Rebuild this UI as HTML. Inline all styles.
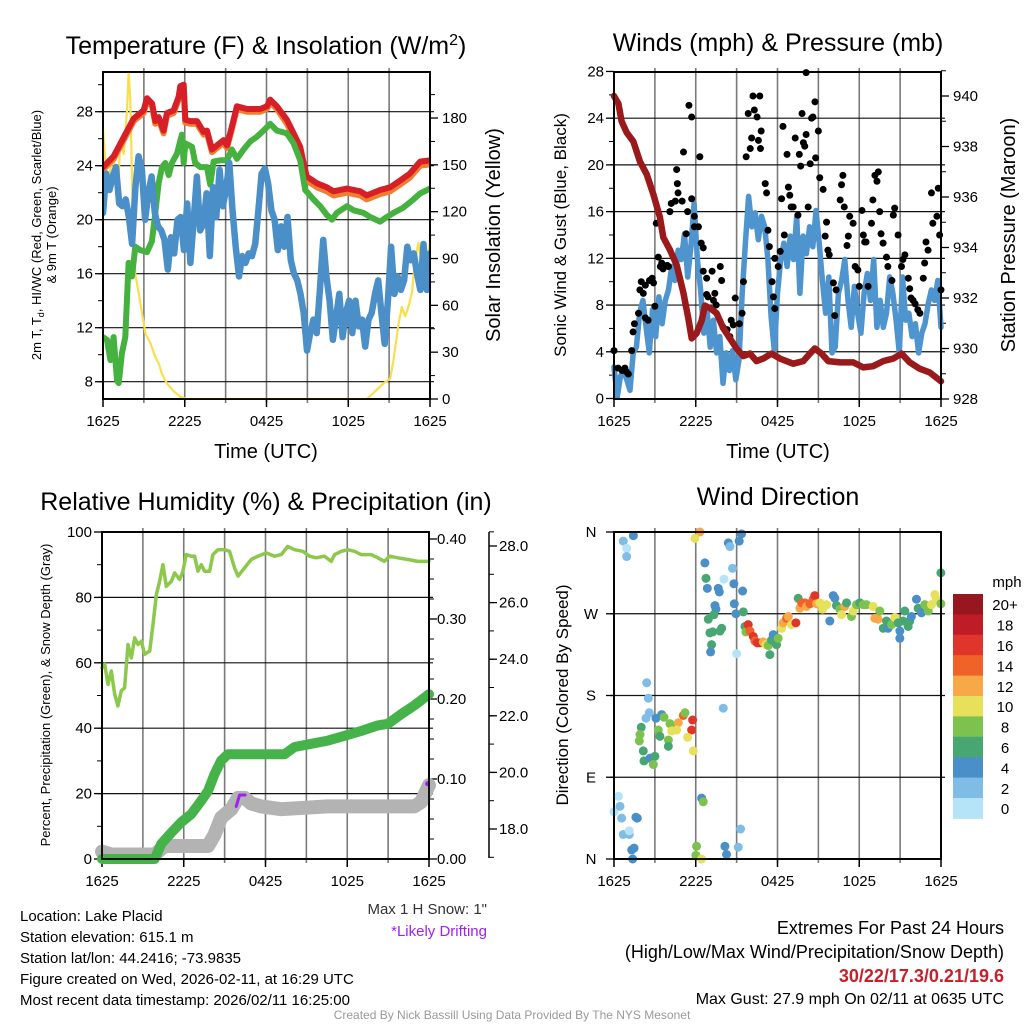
<!DOCTYPE html>
<html><head><meta charset="utf-8"><style>
html,body{margin:0;padding:0;background:#fff}
svg{display:block;font-family:"Liberation Sans",Arial,sans-serif}
</style></head><body>
<svg id="c" width="1024" height="1024" viewBox="0 0 1024 1024" xmlns="http://www.w3.org/2000/svg">
<g id="g1"></g>
<g id="g2"></g>
<g id="g3"></g>
<g id="g4"></g>
<g id="txt">
<text x="20" y="921" font-size="15">Location: Lake Placid</text>
<text x="20" y="942" font-size="15">Station elevation: 615.1 m</text>
<text x="20" y="963" font-size="15">Station lat/lon: 44.2416; -73.9835</text>
<text x="20" y="984" font-size="15">Figure created on Wed, 2026-02-11, at 16:29 UTC</text>
<text x="20" y="1005" font-size="15">Most recent data timestamp: 2026/02/11 16:25:00</text>
<text x="487" y="914" font-size="15" text-anchor="end" fill="#333">Max 1 H Snow: 1"</text>
<text x="487" y="936" font-size="15" text-anchor="end" fill="#a020f0">*Likely Drifting</text>
<text x="1004" y="934" font-size="18" text-anchor="end">Extremes For Past 24 Hours</text>
<text x="1004" y="958" font-size="18" text-anchor="end">(High/Low/Max Wind/Precipitation/Snow Depth)</text>
<text x="1004" y="982" font-size="18" font-weight="bold" text-anchor="end" fill="#c8202a">30/22/17.3/0.21/19.6</text>
<text x="1004" y="1004" font-size="16" text-anchor="end">Max Gust: 27.9 mph On 02/11 at 0635 UTC</text>
<text x="512" y="1019" font-size="12" text-anchor="middle" fill="#999">Created By Nick Bassill Using Data Provided By The NYS Mesonet</text>
</g>
</svg>
<script>
const timeTickLabels=["1625","2225","0425","1025","1625"];
const timeTickHours=[0,6,12,18,24];
// Panel 1
const tempTicks=[8,12,16,20,24,28];
const solarTicks=[0,30,60,90,120,150,180];
const redH=[0,0.78,1.52,2.25,2.98,3.23,3.6,3.84,4.08,4.45,4.69,5.18,5.55,5.67,5.92,6.04,6.41,6.9,7.38,7.63,8.0,8.36,8.85,9.1,9.46,9.83,10.56,11.54,12.03,12.27,12.76,13.5,13.99,14.47,14.72,14.96,15.7,16.43,16.92,17.9,18.88,19.36,20.34,21.08,21.8,22.5,23.28,24];
const redT=[23.9,24.7,26.1,27.5,28.1,29.0,28.6,27.3,27.6,26.6,27.9,28.1,29.1,29.9,30.0,27.4,27.3,27.3,26.5,26.6,25.2,25.5,25.9,25.5,26.9,28.4,28.2,28.2,28.4,28.9,28.4,27.4,26.4,25.4,24.2,23.2,22.7,22.4,22.1,22.3,22.1,21.8,22.2,22.4,22.9,23.4,24.3,24.4];
const orangeT=[23.7,24.5,25.9,27.3,27.9,28.8,28.4,27.1,27.4,26.4,27.7,27.9,28.9,29.7,29.8,27.2,27.1,27.1,26.3,26.4,25.0,25.3,25.7,25.3,26.7,28.2,28.0,28.0,28.2,28.7,28.2,27.1,26.1,25.1,23.9,22.9,22.4,22.1,21.8,22.0,21.8,21.5,21.9,22.1,22.6,23.1,24.0,24.1];
const greenH=[0,0.29,0.54,0.78,1.03,1.15,1.39,1.64,1.88,2.13,2.37,2.74,3.23,3.59,3.84,4.08,4.33,4.57,4.82,5.06,5.43,5.79,5.92,6.04,6.53,6.77,7.14,7.63,7.87,8.12,8.61,9.1,9.46,9.83,10.32,10.81,11.3,11.78,12.27,12.76,13.5,13.99,14.47,14.84,15.45,15.94,16.43,16.8,17.16,17.9,18.39,19.12,19.61,20.34,20.83,21.32,22.05,22.79,23.28,24];
const greenT=[11.3,11.1,9.6,11.3,8.1,7.9,10.1,11.3,16.8,15.8,18.0,17.75,17.6,18.4,20.5,22.7,23.9,24.2,23.3,24.2,24.9,26.3,24.2,25.65,25.4,24.2,23.9,23.9,22.6,24.3,24.4,24.4,25.2,24.5,25.2,25.8,26.15,26.6,27.1,26.6,26.4,25.65,24.4,22.2,21.5,21.0,20.35,20.0,20.5,21.0,20.7,20.5,20.2,19.85,20.2,20.5,20.9,21.5,21.95,22.3];
const chillT=[20.5,23.4,22.2,23.2,23.9,21.2,21.0,21.5,20.2,18.2,22.4,24.7,23.7,20.0,21.95,23.2,20.5,19.5,19.2,18.5,16.3,18.7,17.5,20.0,20.2,17.75,21.2,16.8,20.0,23.2,19.2,19.7,21.95,17.3,22.4,20.2,23.7,21.0,22.2,24.2,20.7,18.0,15.8,17.3,16.8,17.5,17.3,18.2,20.7,23.4,23.8,22.7,20.7,20.0,17.75,19.5,18.0,20.2,17.0,16.0,15.5,14.5,13.1,10.3,11.6,12.6,11.6,14.8,18.5,15.8,14.0,11.1,12.8,14.5,11.3,13.1,14.0,11.6,14.0,12.1,12.6,10.6,12.6,13.1,14.5,15.5,13.1,10.8,14.0,18.0,14.5,15.8,14.8,15.5,18.0,17.0,17.5,16.0,14.8,18.2,14.8,17.5];
const solarH=[0,0.17,0.29,0.54,0.78,1.03,1.15,1.27,1.52,1.76,1.88,2.0,2.13,2.25,2.37,2.62,2.86,3.11,3.47,3.84,4.08,4.33,4.69,5.18,5.67,6.16,19.36,19.85,20.59,21.08,21.32,21.69,21.93,22.18,22.42,22.67,22.91,23.15,23.4,23.64,23.89,24];
const solarW=[172,153,138,147,154,136,143,166,157,185,209,192,142,97,80,68,55,42,36,27,23,16,10,5,1.5,0,0,4,10,13,25,48,59,53,59,68,89,100,85,70,95,100];
// Panel 2
const windTicks=[0,4,8,12,16,20,24,28];
const presTicks=[928,930,932,934,936,938,940];
const sonicW=[2.7,0.1,1.9,2.4,1.6,0.7,3.9,4.4,7.3,8.4,6.1,3.9,7.6,5.3,8.7,6.4,8.4,9.3,11.3,10.1,12.7,11.9,14.1,10.4,13,16.7,11.9,9.3,5.6,7.6,4.4,6.7,3.9,5.3,1.3,3.9,2.4,4.1,1.6,3.3,9.0,13.3,17.3,14.7,15.9,13.6,15.6,14.7,11.9,7.0,4.1,9.0,11.9,13.3,11.3,13.9,11.9,15.6,9.0,13.9,12.4,14.7,13,16.1,13.3,10.1,7.3,10.4,3.9,4.4,9.0,10.1,11.9,8.4,6.1,9.6,7.3,5.6,9.0,10.7,8.4,11.9,6.1,8.4,6.1,7.3,10.4,9.0,6.7,3.9,10.4,6.7,7.3,5.3,6.4,3.9,5.6,6.4,8.1,9.3,8.4,10.1,6.1];
const presH=[0,0.32,0.56,0.93,1.42,1.91,2.4,2.89,3.37,3.62,4.11,4.6,5.09,5.45,5.7,6.06,6.43,6.67,7.04,7.53,8.02,8.51,9.0,9.49,9.98,10.46,10.95,11.56,12.18,13.15,13.89,14.38,14.74,15.23,15.72,16.58,17.56,18.29,19.02,19.76,20.49,21.1,21.71,22.44,23.18,24];
const presMb=[940.0,939.7,939.0,938.55,938.2,937.4,936.9,936.1,935.2,934.4,933.9,933.3,932.2,931.2,930.4,930.6,931.1,931.7,931.6,931.4,930.8,930.4,930.0,929.7,929.8,929.5,929.6,929.8,929.6,929.4,929.5,929.8,930.0,929.8,929.5,929.45,929.45,929.25,929.3,929.5,929.6,929.8,929.45,929.2,929.05,928.7];
const gustH=[0,.3,.6,.8,.9,1.05,1.3,1.4,1.5,1.8,1.9,2.0,2.15,2.3,2.3,2.5,2.6,2.8,2.9,3.0,3.1,3.25,3.4,3.5,3.6,3.7,3.9,4.0,4.1,4.2,4.5,4.6,4.65,4.7,5.0,5.1,5.3,5.4,5.5,5.7,5.7,5.9,5.9,6.2,6.3,6.4,6.55,6.55,6.8,6.8,6.9,7.2,7.3,7.4,7.5,7.8,7.9,8.0,8.3,8.5,8.6,8.75,8.9,9.2,9.4,9.5,9.7,9.85,10.0,10.1,10.2,10.3,10.5,10.6,10.7,10.75,10.8,11.1,11.2,11.3,11.4,11.6,11.7,11.8,11.8,12.05,12.2,12.3,12.4,12.5,12.7,12.8,12.9,13.0,13.15,13.3,13.5,13.6,13.7,13.8,13.9,14.0,14.1,14.1,14.25,14.4,14.5,14.6,14.75,14.8,15.0,15.1,15.35,15.5,15.6,15.7,15.8,16.1,16.2,16.3,16.6,16.7,16.8,16.9,17.1,17.2,17.3,17.55,17.7,17.9,18.0,18.2,18.3,18.4,18.5,18.65,18.9,19.0,19.15,19.3,19.4,19.5,19.6,19.75,20.0,20.1,20.4,20.5,20.6,20.85,21.1,21.2,21.35,21.6,21.7,21.8,21.95,22.1,22.3,22.45,22.7,22.8,22.9,23.05,23.3,23.4,23.7,23.8,23.9,24.0];
const gustW=[4.1,2.6,2.4,2.6,2.3,2.1,4.1,5.7,6.4,7.3,9.3,10.0,9.0,9.7,6.9,6.7,10.1,10.3,9.9,7.9,15.0,12.1,11.3,11.6,11.1,11.3,11.4,11.3,16.0,16.7,16.9,19.6,18.4,17.6,16.9,21.1,14.1,16.0,25.1,24.1,17.1,14.7,15.6,14.7,20.7,13.3,12.9,10.9,10.3,8.9,8.7,10.9,8.4,9.0,8.0,11.3,10.1,6.1,5.9,5.3,6.7,6.3,8.6,6.4,7.3,10.0,20.7,24.4,21.4,22.3,25.9,24.7,24.1,22.1,25.9,21.4,22.9,18.4,17.6,14.4,13.0,10.0,8.7,7.7,12.0,11.3,12.6,17.1,23.3,14.0,20.9,18.1,17.4,16.4,16.4,22.3,15.7,20.9,19.9,24.4,21.9,21.6,22.6,27.9,16.4,20.1,24.0,24.1,25.4,20.6,22.9,18.9,17.9,13.9,15.1,12.7,12.3,9.9,7.1,9.3,17.0,18.3,19.1,16.4,13.1,13.9,15.6,15.0,11.3,11.0,9.6,16.1,14.0,13.4,13.4,9.6,15.0,17.0,19.1,18.6,19.4,16.0,14.1,13.3,12.1,11.3,10.1,15.7,16.3,14.0,11.3,11.9,12.3,10.3,9.4,8.6,8.4,8.1,7.6,7.3,10.3,11.6,13.4,12.7,17.6,15.0,15.6,18.0,14.0,9.3];
// Panel 3
const rhTicks=[0,20,40,60,80,100];
const precipTicks=["0.00","0.10","0.20","0.30","0.40"];
const snowTicks=["18.0","20.0","22.0","24.0","26.0","28.0"];
const rhH=[0,0.2,0.44,0.68,0.93,1.17,1.42,1.66,1.91,2.15,2.4,2.64,2.89,3.13,3.5,3.74,3.99,4.23,4.47,4.72,5.09,5.33,5.7,5.94,6.18,6.55,6.8,7.04,7.29,7.53,7.9,8.14,8.51,9.0,9.36,9.73,9.98,10.46,10.95,11.44,12.05,12.67,13.15,13.64,14.13,14.74,15.23,15.72,16.33,16.82,17.07,17.56,18.04,18.53,19.02,19.76,20.25,20.73,21.1,21.71,22.44,23.18,24];
const rhPct=[58.5,59.5,53.4,57.5,50.4,46.8,51.4,52.4,65.6,61.5,67.6,65.6,66.6,62.6,63.6,71.7,80.9,84.9,90.0,83.4,84.9,87.5,85.5,88.0,93.1,92.6,92.6,88.0,90.0,88.0,88.0,93.1,94.6,94.6,94.1,89.0,86.5,89.0,91.6,92.6,93.6,92.6,93.1,95.6,94.6,94.1,92.6,92.1,92.6,91.0,93.1,94.1,94.6,94.1,93.1,93.1,92.1,91.0,92.6,92.1,91.6,91.0,91.0];
const precipH=[0,3.86,4.35,5.09,5.82,6.55,7.29,7.78,8.26,8.75,9.24,9.73,13.4,14.13,15.35,16.58,17.8,19.02,20.25,20.98,21.96,22.93,24];
const precipIn=[0,0,0.019,0.033,0.046,0.056,0.073,0.085,0.106,0.123,0.131,0.131,0.131,0.14,0.144,0.148,0.154,0.16,0.167,0.169,0.181,0.192,0.206];
const snowH=[0,0.68,3.86,4.6,7.78,8.26,8.75,9.49,9.98,10.46,10.95,11.69,13.15,16.58,22.44,22.93,23.42,24];
const snowIn=[17.2,17.1,17.1,17.4,17.4,17.8,18.4,18.7,19.1,19.1,18.9,18.8,18.7,18.8,18.8,18.8,18.95,19.55];
const driftH=[9.85,10.1,10.5];
const driftIn=[18.8,19.2,19.2];
const driftH2=[23.9];
const driftIn2=[19.6];
// Panel 4
const dirLabels=["N","E","S","W","N"];
const dirTicks=[0,90,180,270,360];
const speedBinLabels=["0","2","4","6","8","10","12","14","16","18","20+"];
const speedBinColors=["#b5e3f8","#7fbde6","#4a8fc7","#48a673","#7dc24f","#e6e05b","#f8a947","#ef6329","#e0352a","#c01c27","#96171d"];
const dirH=[.68,.93,.93,1.42,6.31,5.94,8.39,8.51,9.19,9.36,6.67,6.75,6.85,7.65,7.73,8.07,8.7,8.8,9.44,7.41,7.48,8.83,8.95,9.49,7.33,6.92,7.04,7.24,7.78,7.9,7.16,7.09,9.0,
9.61,9.68,9.85,9.98,10.22,10.34,10.51,10.71,10.95,11.15,11.32,11.44,11.56,11.69,11.93,12.05,12.3,12.42,12.67,12.79,13.03,13.35,13.52,13.64,13.77,14.01,14.13,14.38,14.62,14.74,14.87,15.11,15.31,15.6,15.84,16.09,16.21,16.33,16.58,16.7,16.94,17.07,17.43,17.56,17.8,18.04,18.29,18.53,19.02,19.14,19.39,19.51,19.76,20.0,20.12,20.37,20.61,20.86,20.98,20.98,21.22,21.34,21.59,21.71,21.83,22.2,22.32,22.57,22.81,23.06,23.3,23.55,23.67,23.99,23.99,
2.4,2.52,2.59,2.35,3.08,3.5,3.67,4.11,4.35,4.72,4.6,5.09,5.21,5.77,5.7,5.4,5.82,2.0,1.91,1.86,2.15,2.2,2.64,3.0,2.89,3.25,3.37,3.99,3.99,4.23,8.02,
.32,0,.44,.56,1.61,1.71,.68,1.12,1.12,1.3,1.47,1.37,6.43,6.55,6.06,6.01,6.43,8.14,8.26,9.12,9.29];
const dirDeg=[350,342,333,356,360,353,348,344,350,358,326,309,298,298,294,308,320,303,295,279,275,281,270,272,269,264,249,250,251,254,236,228,226,
256,250,258,251,245,240,238,238,239,236,235,225,241,247,236,243,254,260,265,267,258,260,287,276,282,282,278,281,286,290,281,282,275,280,262,290,287,279,275,269,278,282,267,273,280,282,280,280,278,265,264,273,254,262,254,258,266,260,251,243,262,273,256,262,267,286,276,271,280,273,280,291,286,281,315,
194,177,161,155,155,159,156,149,144,150,142,158,161,153,142,134,119,145,137,130,119,108,111,113,104,142,135,131,124,141,166,
69,52,58,45,46,45,27,27,31,10,12,0,67,63,14,4,0,14,5,13,33];
const dirSpeed=[3,1,3,5,13,10,5,3,4,5,5,7,5,5,5,1,3,5,5,5,5,5,5,7,7,7,7,7,7,7,7,5,1,
7,9,17,15,17,15,17,17,13,11,9,7,7,5,7,9,11,13,15,13,11,17,7,13,15,15,13,15,15,17,13,11,11,11,5,5,5,7,9,11,13,7,9,11,9,7,9,9,11,13,13,9,7,7,5,9,11,7,5,5,7,7,7,7,5,5,7,5,9,9,11,11,11,9,7,
3,3,3,3,5,5,9,9,9,13,11,15,9,17,17,11,11,7,9,9,7,7,5,7,9,9,7,9,7,11,3,
1,1,3,3,5,5,3,3,1,5,5,5,5,9,9,9,11,5,5,3,3];

const NS="http://www.w3.org/2000/svg";
function mk(parent,tag,attrs){const e=document.createElementNS(NS,tag);for(const k in attrs)e.setAttribute(k,attrs[k]);parent.appendChild(e);return e;}
function txt(parent,x,y,s,size,anchor,extra){const e=mk(parent,"text",Object.assign({x:x,y:y,"font-size":size,"text-anchor":anchor||"middle"},extra||{}));e.textContent=s;return e;}
function line(parent,xs,ys,color,w,name){let d="";for(let i=0;i<xs.length;i++)d+=(i?"L":"M")+xs[i].toFixed(1)+","+ys[i].toFixed(1);const p=mk(parent,"path",{d:d,fill:"none",stroke:color,"stroke-width":w,"stroke-linejoin":"round","stroke-linecap":"round"});


return p;}
function frame(g,L,R,T,B,hy,xFn){
  for(let h=3;h<24;h+=3){mk(g,"line",{x1:xFn(h),x2:xFn(h),y1:T-4,y2:B+4,stroke:"#7a7a7a","stroke-width":1.6});}
  hy.forEach(y=>{mk(g,"line",{x1:L-4,x2:R+4,y1:y,y2:y,stroke:"#111","stroke-width":1.2});});
  mk(g,"rect",{x:L,y:T,width:R-L,height:B-T,fill:"none",stroke:"#000","stroke-width":1.8});
}
function timeAxis(g,xFn,B){
  timeTickHours.forEach((h,i)=>{const x=xFn(h);mk(g,"line",{x1:x,x2:x,y1:B,y2:B+8,stroke:"#000","stroke-width":1.5});
    const t=txt(g,x,B+27,timeTickLabels[i],15);
    
    });
}
function leftTicks(g,L,vals,yFn,minor,fmt){
  vals.forEach(v=>{const y=yFn(v);mk(g,"line",{x1:L-8,x2:L,y1:y,y2:y,stroke:"#000","stroke-width":1.3});
    const t=txt(g,L-10,y+5,fmt?fmt(v):String(v),15,"end");
    
    });
  minor.forEach(v=>{const y=yFn(v);mk(g,"line",{x1:L-5,x2:L,y1:y,y2:y,stroke:"#000","stroke-width":1});});
}
function rightTicks(g,R,vals,yFn,minor,labels,dx){
  vals.forEach((v,i)=>{const y=yFn(v);mk(g,"line",{x1:R,x2:R+8,y1:y,y2:y,stroke:"#000","stroke-width":1.3});
    const t=txt(g,R+(dx||12),y+5,labels?labels[i]:String(v),15,"start");
    
    });
  minor.forEach(v=>{const y=yFn(v);mk(g,"line",{x1:R,x2:R+5,y1:y,y2:y,stroke:"#000","stroke-width":1});});
}
function rng(a,b,s){const r=[];for(let v=a;v<=b+1e-9;v+=s)r.push(+v.toFixed(4));return r;}

// ---------- Panel 1 ----------
(function(){
const g=document.getElementById("g1");
const L=103,R=430,T=72,B=399;
const x=h=>L+h*(R-L)/24, ty=t=>111.7-(t-28)*13.5, sy=s=>B-s*1.561;
frame(g,L,R,T,B,tempTicks.map(ty),x);
leftTicks(g,L,tempTicks,ty,rng(10,30,4));
rightTicks(g,R,solarTicks,sy,rng(15,210,30));
timeAxis(g,x,B);
const cg=mk(g,"g",{"clip-path":"url(#cp1)"});
const cp=mk(g,"clipPath",{id:"cp1"});mk(cp,"rect",{x:L,y:T,width:R-L,height:B-T});
line(cg,solarH.map(x),solarW.map(sy),"#f8df4d",2.2,"solar-line");
line(cg,redH.map(x),orangeT.map(ty),"#f07e2e",6,"temp-9m-line");
line(cg,redH.map(x),redT.map(ty),"#d61f26",6,"temp-2m-line");
line(cg,greenH.map(x),greenT.map(ty),"#45b13f",6,"dewpoint-line");
line(cg,chillT.map((v,i)=>x(i*24/(chillT.length-1))),chillT.map(ty),"#4b8fc8",6.5,"windchill-line");
mk(g,"rect",{x:L,y:T,width:R-L,height:B-T,fill:"none",stroke:"#000","stroke-width":1.8});
let t=txt(g,266,54,"Temperature (F) & Insolation (W/m",25);
const sup=mk(t,"tspan",{dy:-9,"font-size":16});sup.textContent="2";const cl=mk(t,"tspan",{dy:9});cl.textContent=")";
t=txt(g,266,458,"Time (UTC)",20);
t=txt(g,0,0,"Solar Insolation (Yellow)",20,"middle",{transform:"translate(500,235) rotate(-90)"});
t=txt(g,0,0,"",13,"middle",{transform:"translate(41,235) rotate(-90)"});
t.innerHTML='2m T, T<tspan font-size="9" dy="3">d</tspan><tspan dy="-3">, HI/WC (Red, Green, Scarlet/Blue)</tspan>';
t=txt(g,0,0,"& 9m T (Orange)",13,"middle",{transform:"translate(56,235) rotate(-90)"});
})();

// ---------- Panel 2 ----------
(function(){
const g=document.getElementById("g2");
const L=614,R=941,T=72,B=399;
const x=h=>L+h*(R-L)/24, wy=w=>398.5-w*11.68, py=p=>B-(p-928)*25.25;
frame(g,L,R,T,B,windTicks.slice(1,7).map(wy),x);
leftTicks(g,L,windTicks,wy,rng(2,26,4));
rightTicks(g,R,presTicks,py,rng(929,941,2));
timeAxis(g,x,B);
line(g,sonicW.map((v,i)=>x(i*24/(sonicW.length-1))),sonicW.map(wy),"#4e94cf",5.5,"sonic-wind-line");
gustW.forEach((v,i)=>{const c=mk(g,"circle",{cx:x(gustH[i]),cy:wy(v),r:3.5,fill:"#000"});

});
line(g,presH.map(x),presMb.map(py),"#9a1a1c",6.5,"pressure-line");
mk(g,"rect",{x:L,y:T,width:R-L,height:B-T,fill:"none",stroke:"#000","stroke-width":1.8});
let t=txt(g,778,51,"Winds (mph) & Pressure (mb)",25);
t=txt(g,778,458,"Time (UTC)",20);
t=txt(g,0,0,"Sonic Wind & Gust (Blue, Black)",17,"middle",{transform:"translate(566,235) rotate(-90)"});
t=txt(g,0,0,"Station Pressure (Maroon)",20,"middle",{transform:"translate(1015,235) rotate(-90)"});
})();

// ---------- Panel 3 ----------
(function(){
const g=document.getElementById("g3");
const L=102,R=429,T=532,B=859;
const x=h=>L+h*(R-L)/24, ry=r=>B-r*3.27, ppy=p=>B-p*800, sny=s=>829-(s-18)*28.3;
frame(g,L,R,T,B,rhTicks.slice(1,5).map(ry),x);
leftTicks(g,L,rhTicks,ry,rng(10,90,20));
rightTicks(g,R,precipTicks.map(Number),ppy,rng(0.05,0.35,0.1).concat(rng(0.025,0.4,0.05)),precipTicks,8);
mk(g,"line",{x1:489,x2:489,y1:532,y2:858,stroke:"#000","stroke-width":1.5});
rightTicks(g,489,snowTicks.map(Number),sny,rng(17,27,1).concat([28.5]),snowTicks,10);
timeAxis(g,x,B);
line(g,rhH.map(x),rhPct.map(ry),"#8cc84b",3.5,"rh-line");
line(g,snowH.map(x),snowIn.map(sny),"#b3b3b3",14,"snow-depth-line");
line(g,precipH.map(x),precipIn.map(ppy),"#45b34a",10,"precip-line");
line(g,driftH.map(x),driftIn.map(sny),"#a020f0",3,"drifting-segment");
driftH2.forEach((h,i)=>{const c=mk(g,"circle",{cx:x(h),cy:sny(driftIn2[i]),r:2.5,fill:"#a020f0"});

});
mk(g,"rect",{x:L,y:T,width:R-L,height:B-T,fill:"none",stroke:"#000","stroke-width":1.8});
let t=txt(g,266,510,"Relative Humidity (%) & Precipitation (in)",25);
t=txt(g,0,0,"Percent, Precipitation (Green), & Snow Depth (Gray)",13,"middle",{transform:"translate(50,695) rotate(-90)"});
})();

// ---------- Panel 4 ----------
(function(){
const g=document.getElementById("g4");
const L=614,R=941,T=532,B=859;
const x=h=>L+h*(R-L)/24, dy=d=>B-d*(B-T)/360;
frame(g,L,R,T,B,[90,180,270].map(dy),x);
dirTicks.forEach((d,i)=>{const y=dy(d);mk(g,"line",{x1:L-8,x2:L,y1:y,y2:y,stroke:"#000","stroke-width":1.3});
  const t=txt(g,591,y+5,dirLabels[i],15);});
timeAxis(g,x,B);
dirDeg.forEach((d,i)=>{const b=Math.min(10,Math.floor(dirSpeed[i]/2));
  const c=mk(g,"circle",{cx:x(dirH[i]),cy:dy(d),r:4.5,fill:speedBinColors[b]});
  
  });
mk(g,"rect",{x:L,y:T,width:R-L,height:B-T,fill:"none",stroke:"#000","stroke-width":1.8});
let t=txt(g,778,505,"Wind Direction",25);
t=txt(g,0,0,"Direction (Colored By Speed)",17,"middle",{transform:"translate(568,695) rotate(-90)"});
const cb=mk(g,"g",{});
const top=594,h=20.4;
for(let i=10;i>=0;i--){const yy=top+(10-i)*h;
  mk(cb,"rect",{x:953,y:yy,width:30,height:h+0.5,fill:speedBinColors[i]});
  const lt=txt(cb,1005,yy+h/2+6,speedBinLabels[i],15);}
t=txt(cb,1007,587,"mph",15);
})();
</script>
</body></html>
